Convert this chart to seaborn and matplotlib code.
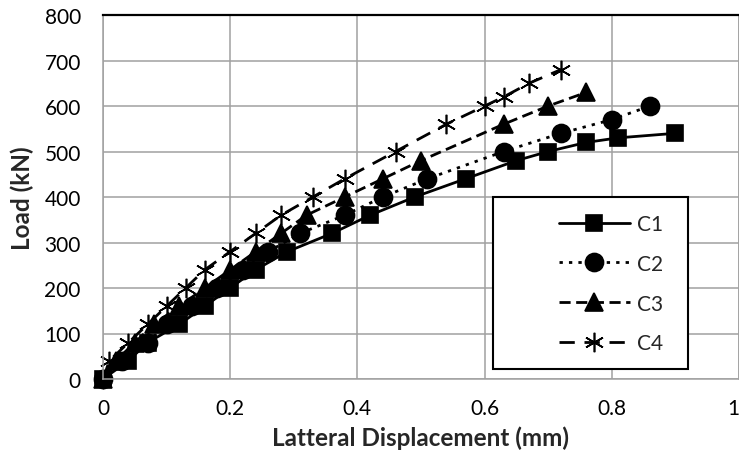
import matplotlib
matplotlib.use("Agg")
import matplotlib.pyplot as plt
import seaborn as sns
from matplotlib.patches import Rectangle

# Data
c1_x = [0, 0.04, 0.07, 0.12, 0.16, 0.20, 0.24, 0.29, 0.36, 0.42, 0.49, 0.57, 0.65, 0.70, 0.76, 0.81, 0.90]
c1_y = [0, 40, 80, 120, 160, 200, 240, 280, 320, 360, 400, 440, 480, 500, 520, 530, 540]

c2_x = [0, 0.03, 0.07, 0.10, 0.14, 0.18, 0.22, 0.26, 0.31, 0.38, 0.44, 0.51, 0.63, 0.72, 0.80, 0.86]
c2_y = [0, 40, 80, 120, 160, 200, 240, 280, 320, 360, 400, 440, 500, 540, 570, 600]

c3_x = [0, 0.02, 0.05, 0.08, 0.12, 0.16, 0.20, 0.24, 0.28, 0.32, 0.38, 0.44, 0.50, 0.63, 0.70, 0.76]
c3_y = [0, 40, 80, 120, 160, 200, 240, 280, 320, 360, 400, 440, 480, 560, 600, 630]

c4_x = [0, 0.01, 0.04, 0.07, 0.10, 0.13, 0.16, 0.20, 0.24, 0.28, 0.33, 0.38, 0.46, 0.54, 0.60, 0.63, 0.67, 0.72]
c4_y = [0, 40, 80, 120, 160, 200, 240, 280, 320, 360, 400, 440, 500, 560, 600, 620, 650, 680]

series_names = ["C1", "C2", "C3", "C4"]
x_ticks = [0, 0.2, 0.4, 0.6, 0.8, 1.0]
x_tick_labels = ["0", "0.2", "0.4", "0.6", "0.8", "1"]
y_ticks = [0, 100, 200, 300, 400, 500, 600, 700, 800]

sns.set_style("white")
plt.rcParams['font.family'] = ['Lato', 'DejaVu Sans']

fig = plt.figure(figsize=(7.39, 4.64), dpi=100)
ax = fig.add_axes([103 / 739, 84 / 464, 636 / 739, 364 / 464])

styles = [
    dict(marker="s", markersize=12, linestyle="-"),
    dict(marker="o", markersize=13, linestyle=(0, (1.2, 2.2))),
    dict(marker="^", markersize=13, linestyle=(0, (4, 2))),
    dict(marker=(6, 2, 0), markersize=14, linestyle=(0, (5.5, 3.5))),
]
xs = [c1_x, c2_x, c3_x, c4_x]
ys = [c1_y, c2_y, c3_y, c4_y]

for name, x, y, st in zip(series_names, xs, ys, styles):
    sns.lineplot(x=x, y=y, ax=ax, color="black", linewidth=2.0,
                 markeredgecolor="black", markerfacecolor="black",
                 markeredgewidth=1.2, sort=False, estimator=None,
                 label=name, clip_on=False, **st)

ax.set_xlim(0, 1)
ax.set_ylim(0, 800)
ax.set_xticks(x_ticks)
ax.set_xticklabels(x_tick_labels)
ax.set_yticks(y_ticks)
ax.tick_params(axis="both", length=0, labelsize=15, colors="black")
ax.tick_params(axis="y", pad=16)
ax.tick_params(axis="x", pad=14)
ax.get_xticklabels()[-1].set_horizontalalignment("right")
ax.grid(True, color="#a0a0a0", linewidth=1.1)
ax.set_axisbelow(True)
for side in ["left", "bottom", "right"]:
    ax.spines[side].set_color("#a0a0a0")
    ax.spines[side].set_linewidth(1.1)
ax.spines["top"].set_color("black")
ax.spines["top"].set_linewidth(1.6)

ax.set_xlabel("Latteral Displacement (mm)", fontsize=17.5, fontweight="bold")
ax.set_ylabel("Load (kN)", fontsize=17.5, fontweight="bold")
ax.xaxis.set_label_coords(0.5, -0.128)
ax.yaxis.set_label_coords(-0.108, 0.5)

# legend box like the Excel one
box = Rectangle((0.613, 0.027), 0.307, 0.473, transform=ax.transAxes,
                facecolor="white", edgecolor="black", linewidth=1.5, zorder=4)
ax.add_patch(box)
leg = ax.legend(loc="center left", bbox_to_anchor=(0.717, 0.262), frameon=False,
                fontsize=15, handlelength=3.4, handletextpad=0.35,
                labelspacing=0.95, borderpad=0, borderaxespad=0, numpoints=1)
leg.set_zorder(6)

fig.savefig("out.png", dpi=100)
